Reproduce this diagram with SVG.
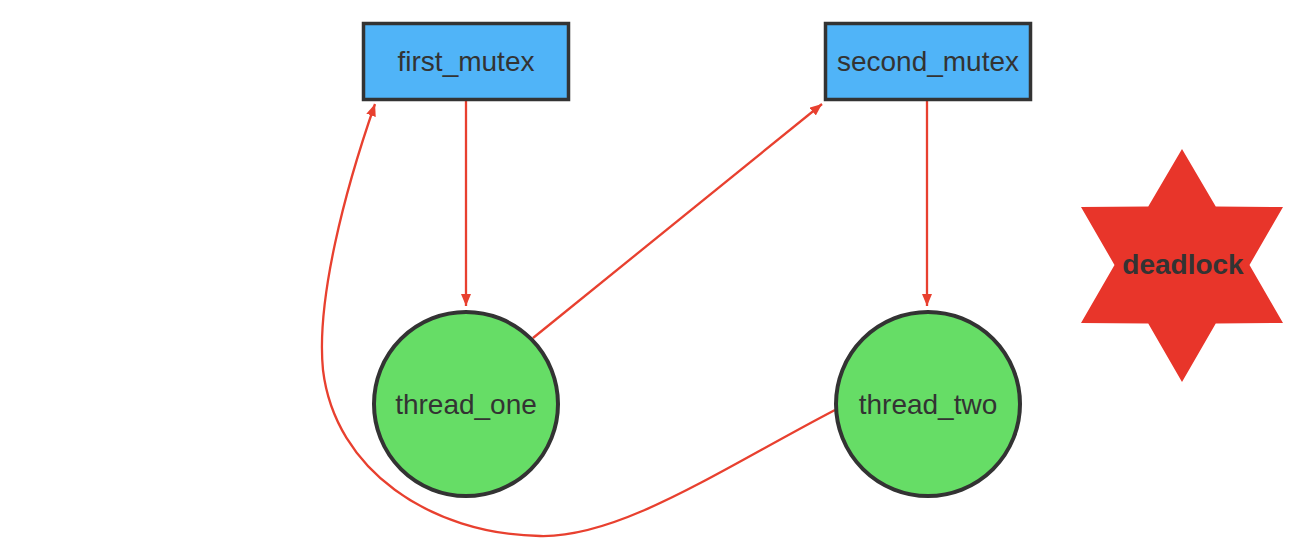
<svg xmlns="http://www.w3.org/2000/svg" width="1302" height="558" viewBox="0 0 1302 558">
<style>
.mutex{fill:#50B4F8;stroke:#333;stroke-width:3.5}
.thread{fill:#66DD66;stroke:#333;stroke-width:4}
.lbl{font-family:"Liberation Sans",Arial,sans-serif;font-size:28px;fill:#333;text-anchor:middle}
.edge{fill:none;stroke:#E8402F;stroke-width:2.3}
</style>
<defs>
<marker id="ah" markerUnits="userSpaceOnUse" markerWidth="14" markerHeight="12" refX="12" refY="5" orient="auto">
<path d="M0,0 L12,5 L0,10 Z" fill="#E8402F"/>
</marker>
</defs>
<g id="connectors">
<path class="edge" d="M466,101 L466,306" marker-end="url(#ah)"/>
<path class="edge" d="M533,338 L822,104" marker-end="url(#ah)"/>
<path class="edge" d="M927,101 L927,306" marker-end="url(#ah)"/>
<path class="edge" d="M835,410 C720,470 620,538 540,536 C430,534 335,470 323,370 C316,300 345,190 375,104" marker-end="url(#ah)"/>
</g>
<g id="first_mutex">
<rect class="mutex" x="363.5" y="23.5" width="205" height="76"/>
<text class="lbl" x="466" y="71">first_mutex</text>
</g>
<g id="second_mutex">
<rect class="mutex" x="825.5" y="23.5" width="205" height="76"/>
<text class="lbl" x="928" y="71">second_mutex</text>
</g>
<g id="thread_one">
<ellipse class="thread" cx="466" cy="404" rx="92" ry="92"/>
<text class="lbl" x="466" y="414">thread_one</text>
</g>
<g id="thread_two">
<ellipse class="thread" cx="928" cy="404" rx="92" ry="92"/>
<text class="lbl" x="928" y="414">thread_two</text>
</g>
<g id="deadlock">
<polygon fill="#E8352A" points="1182,149 1215.75,206.5 1283,207 1249.5,265 1283,323 1215.75,323.5 1182,382 1148.25,323.5 1081,323 1114.5,265 1081,207 1148.25,206.5"/>
<text class="lbl" x="1183" y="274" style="font-weight:bold">deadlock</text>
</g>
</svg>
